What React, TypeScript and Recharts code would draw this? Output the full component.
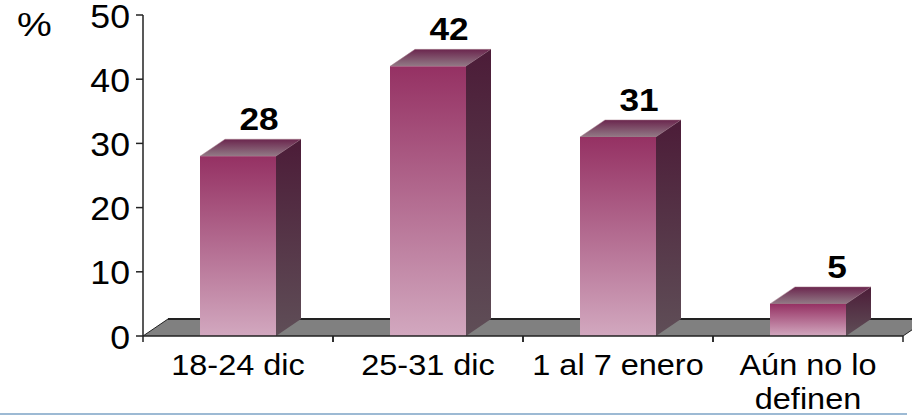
import React from 'react';
import { BarChart, Bar, XAxis, YAxis, ReferenceLine, LabelList } from 'recharts';

const categories = ['18-24 dic', '25-31 dic', '1 al 7 enero', 'Aún no lo definen'];
const values = [28, 42, 31, 5];
const yTicks = [0, 10, 20, 30, 40, 50];
const unitLabel = '%';
const rows = categories.map((name, i) => ({ name, value: values[i] }));

const DX = 25;
const DY = 17;
const FONT = '"Liberation Sans", Arial, sans-serif';
const AXIS = '#222';

function Bar3D(props: any) {
  const { x, y, width, height } = props;
  const r = x + width;
  const b = y + height;
  return (
    <g>
      <polygon
        points={`${x},${y} ${x + DX},${y - DY} ${r + DX},${y - DY} ${r},${y}`}
        fill="url(#topGrad)"
        stroke="#a9808f"
        strokeWidth={0.5}
      />
      <polygon points={`${r},${y} ${r + DX},${y - DY} ${r + DX},${b - DY} ${r},${b}`} fill="url(#sideGrad)" />
      <rect x={x} y={y} width={width} height={height} fill="url(#frontGrad)" />
    </g>
  );
}

function Floor(props: any) {
  const { x1, x2, y1 } = props;
  const xa = x1 ?? props.x;
  const xb = x2 ?? xa + props.width;
  const y = y1 ?? props.y;
  return (
    <g>
      <polygon points={`${xa},${y} ${xa + DX},${y - DY} ${xb + DX},${y - DY} ${xb},${y}`} fill="#808080" />
      <path d={`M${xa},${y} L${xa + DX},${y - DY}`} fill="none" stroke={AXIS} strokeWidth={1} />
      <path d={`M${xa + DX},${y - DY} L${xb + DX},${y - DY}`} fill="none" stroke={AXIS} strokeWidth={2} />
      <path d={`M${xb},${y} L${xb + DX},${y - DY}`} fill="none" stroke={AXIS} strokeWidth={1} />
    </g>
  );
}

function XTick(props: any) {
  const { x, y, payload, width, visibleTicksCount } = props;
  const text: string = payload.value;
  const half = width / visibleTicksCount / 2;
  const lines = text === 'Aún no lo definen' ? ['Aún no lo', 'definen'] : [text];
  const axisY = y - 9;
  return (
    <g>
      <line x1={x - half} x2={x - half} y1={axisY} y2={axisY + 6} stroke={AXIS} strokeWidth={1.5} />
      <line x1={x + half} x2={x + half} y1={axisY} y2={axisY + 6} stroke={AXIS} strokeWidth={1.5} />
      {lines.map((l, i) => (
        <text
          key={l}
          transform={`translate(${x},${axisY + 39 + i * 34}) scale(1.12,1)`}
          textAnchor="middle"
          fontSize={29}
          fill="#000"
          fontFamily={FONT}
        >
          {l}
        </text>
      ))}
    </g>
  );
}

function YTick(props: any) {
  const { y, payload } = props;
  return (
    <text
      transform={`translate(130,${y + 12.5}) scale(1.08,1)`}
      textAnchor="end"
      fontSize={33}
      fill="#000"
      fontFamily={FONT}
    >
      {payload.value}
    </text>
  );
}

function BarValue(props: any) {
  const { x, y, width, value } = props;
  const shift = value < 10 ? 29 : 21;
  return (
    <text
      transform={`translate(${x + width / 2 + shift},${y - 26}) scale(1.1,1)`}
      textAnchor="middle"
      fontSize={32}
      fontWeight="bold"
      fill="#000"
      fontFamily={FONT}
    >
      {value}
    </text>
  );
}

export default function App() {
  return (
    <div style={{ position: 'absolute', left: 0, top: 0, width: 912, height: 415, overflow: 'hidden', background: '#fff' }}>
      <BarChart
        width={912}
        height={415}
        data={rows}
        margin={{ top: 15, right: 9, bottom: 49, left: 0 }}
        barCategoryGap={57}
        style={{ fontFamily: FONT }}
      >
        <defs>
          <linearGradient id="frontGrad" x1="0" y1="0" x2="0" y2="1">
            <stop offset="0" stopColor="#953163" />
            <stop offset="1" stopColor="#d2a8bf" />
          </linearGradient>
          <linearGradient id="sideGrad" x1="0" y1="0" x2="0" y2="1">
            <stop offset="0" stopColor="#4c1c38" />
            <stop offset="1" stopColor="#5f4e57" />
          </linearGradient>
          <linearGradient id="topGrad" x1="0" y1="0" x2="0" y2="1">
            <stop offset="0" stopColor="#6b264e" />
            <stop offset="1" stopColor="#927a86" />
          </linearGradient>
        </defs>
        <ReferenceLine y={0} shape={Floor} ifOverflow="visible" zIndex={-100} />
        <XAxis
          dataKey="name"
          interval={0}
          tick={XTick}
          tickLine={false}
          tickSize={7}
          axisLine={{ stroke: AXIS, strokeWidth: 1.5 }}
        />
        <YAxis
          width={143}
          domain={[0, 50]}
          ticks={yTicks}
          tickSize={7}
          tickLine={{ stroke: AXIS, strokeWidth: 1.5 }}
          axisLine={{ stroke: AXIS, strokeWidth: 1.5 }}
          tick={YTick}
        />
        <Bar dataKey="value" isAnimationActive={false} shape={Bar3D}>
          <LabelList dataKey="value" content={BarValue} />
        </Bar>
        <text transform="translate(17,36) scale(1.15,1)" fontSize={34} fill="#000" fontFamily={FONT}>
          {unitLabel}
        </text>
        <line x1={0} y1={414} x2={907} y2={414} stroke="#7da3c6" strokeWidth={1.5} />
      </BarChart>
    </div>
  );
}
